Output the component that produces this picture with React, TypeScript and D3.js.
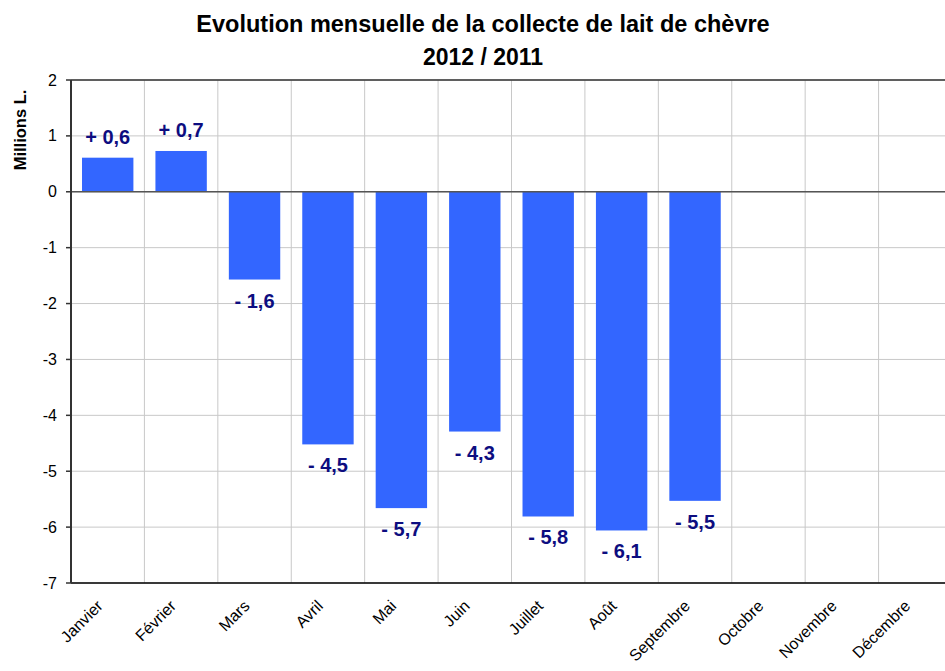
import * as d3 from "d3";

const months = [
  "Janvier", "Février", "Mars", "Avril", "Mai", "Juin",
  "Juillet", "Août", "Septembre", "Octobre", "Novembre", "Décembre",
];
// Écart 2012 / 2011, en millions de litres
const values: (number | null)[] = [0.61, 0.73, -1.57, -4.52, -5.66, -4.29, -5.81, -6.06, -5.53, null, null, null];
const valueLabels = ["+ 0,6", "+ 0,7", "- 1,6", "- 4,5", "- 5,7", "- 4,3", "- 5,8", "- 6,1", "- 5,5", "", "", ""];
const yTicks = [2, 1, 0, -1, -2, -3, -4, -5, -6, -7];

const width = 945;
const height = 671;
const margin = { top: 80, right: -7, bottom: 88, left: 71 };
const font = "Arial, 'Liberation Sans', sans-serif";

export default function App() {
  const x = d3.scaleBand()
    .domain(months)
    .range([margin.left, width - margin.right])
    .paddingInner(0.3)
    .paddingOuter(0.15);

  const y = d3.scaleLinear()
    .domain([-7, 2])
    .range([height - margin.bottom, margin.top]);

  const step = x.step();
  const gridX = months.slice(1).map((m, i) => margin.left + step * (i + 1));
  const left = margin.left;
  const right = width - margin.right;

  return (
    <svg width={width} height={height} style={{ position: "absolute", left: 0, top: 0, background: "#fff" }}
      fontFamily={font}>
      {/* title */}
      <text x={483} y={32} textAnchor="middle" fontSize={23.5} fontWeight="bold">
        Evolution mensuelle de la collecte de lait de chèvre
      </text>
      <text x={483} y={65} textAnchor="middle" fontSize={23} fontWeight="bold">2012 / 2011</text>

      {/* grid */}
      {yTicks.map((t) => (
        <line key={"h" + t} x1={left} x2={right} y1={y(t)} y2={y(t)} stroke="#c8c8c8" strokeWidth={1} />
      ))}
      {gridX.map((gx, i) => (
        <line key={"v" + i} x1={gx} x2={gx} y1={y(2)} y2={y(-7)} stroke="#c8c8c8" strokeWidth={1} />
      ))}

      {/* bars */}
      {months.map((m, i) => {
        const v = values[i];
        if (v == null) return null;
        return (
          <rect key={m} x={x(m)} width={x.bandwidth()}
            y={y(Math.max(0, v))} height={Math.abs(y(v) - y(0))} fill="#3366ff" />
        );
      })}

      {/* axes frame */}
      <line x1={left} x2={right} y1={y(2)} y2={y(2)} stroke="#333" strokeWidth={1.5} />
      <line x1={left} x2={right} y1={y(-7)} y2={y(-7)} stroke="#000" strokeWidth={1.5} />
      <line x1={left} x2={right} y1={y(0)} y2={y(0)} stroke="#555" strokeWidth={1.5} />
      <line x1={left} x2={left} y1={y(2)} y2={y(-7)} stroke="#333" strokeWidth={2} />

      {/* y ticks */}
      {yTicks.map((t) => (
        <g key={"t" + t} transform={`translate(${left},${y(t)})`}>
          <line x1={-5} x2={0} stroke="#333" strokeWidth={1.5} />
          <text x={-14} dy="0.35em" textAnchor="end" fontSize={16}>{t}</text>
        </g>
      ))}
      <text transform={`translate(26,130) rotate(-90)`} textAnchor="middle" fontSize={16.5} fontWeight="bold">
        Millions L.
      </text>

      {/* x labels */}
      {months.map((m) => (
        <text key={"x" + m}
          transform={`translate(${(x(m) ?? 0) + x.bandwidth() / 2 - 4},${y(-7) + 24}) rotate(-45)`}
          textAnchor="end" fontSize={16}>
          {m}
        </text>
      ))}

      {/* value labels */}
      {months.map((m, i) => {
        const v = values[i];
        if (v == null) return null;
        const cx = (x(m) ?? 0) + x.bandwidth() / 2;
        const ly = v >= 0 ? y(v) - 14 : y(v) + 28;
        return (
          <text key={"l" + m} x={cx} y={ly} textAnchor="middle" fontSize={20} fontWeight="bold" fill="#0d0d80">
            {valueLabels[i]}
          </text>
        );
      })}
    </svg>
  );
}
